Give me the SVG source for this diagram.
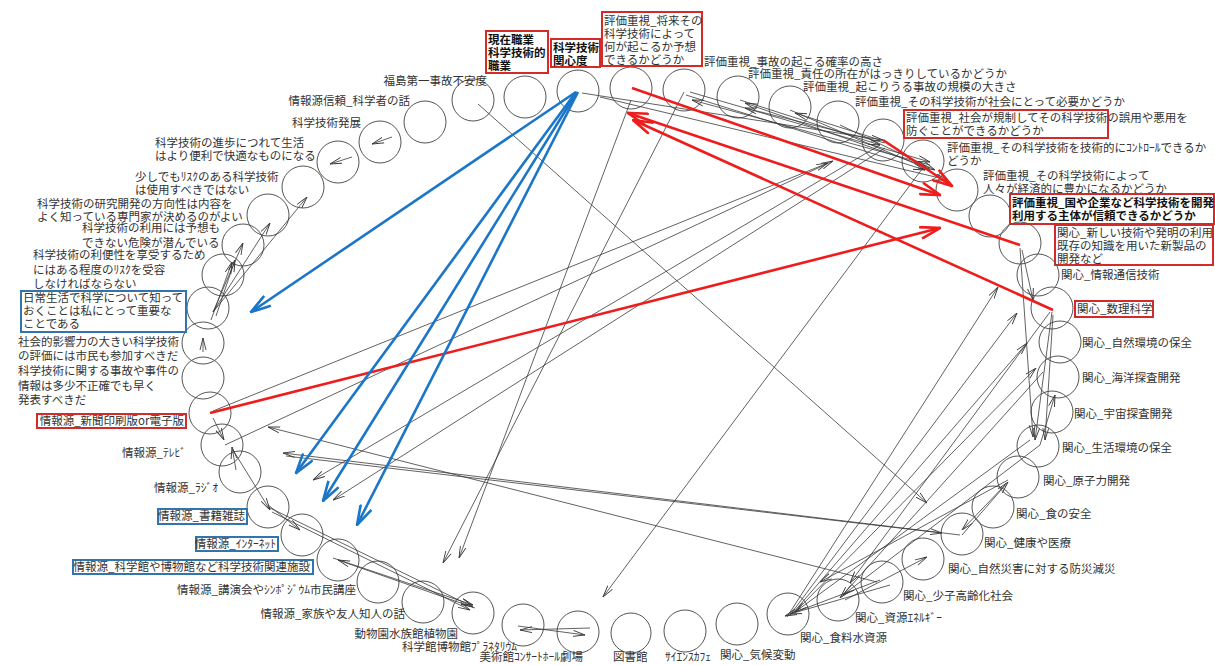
<svg xmlns="http://www.w3.org/2000/svg" width="1215" height="665" viewBox="0 0 1215 665">
<defs>
<style>
.c{fill:none;stroke:#555;stroke-width:1}
.t{font-family:"Noto Sans CJK JP","Noto Sans",sans-serif;font-size:11.5px;fill:#333}
.tb{font-family:"Noto Sans CJK JP","Noto Sans",sans-serif;font-size:11.5px;fill:#111;font-weight:bold}
.rbx{fill:#fff;stroke:#d42a2a;stroke-width:2}
.bbx{fill:#fff;stroke:#3274ae;stroke-width:2}
.k{stroke:#3a3a3a;stroke-width:0.8;fill:none;marker-end:url(#ak)}
.r{stroke:#ee1c1c;stroke-width:2.6;fill:none;marker-end:url(#ar)}
.b{stroke:#1b76c8;stroke-width:2.6;fill:none;marker-end:url(#ab)}
</style>
<marker id="ak" viewBox="0 0 12 8" refX="12" refY="4" markerWidth="12" markerHeight="8" markerUnits="userSpaceOnUse" orient="auto"><path d="M0,1 L12,4 L0,7" fill="none" stroke="#3a3a3a" stroke-width="0.9"/></marker>
<marker id="ar" viewBox="0 0 22 14" refX="21" refY="7" markerWidth="22" markerHeight="14" markerUnits="userSpaceOnUse" orient="auto"><path d="M1,1 L21,7 L1,13" fill="none" stroke="#ee1c1c" stroke-width="2.6"/></marker>
<marker id="ab" viewBox="0 0 22 14" refX="21" refY="7" markerWidth="22" markerHeight="14" markerUnits="userSpaceOnUse" orient="auto"><path d="M1,1 L21,7 L1,13" fill="none" stroke="#1b76c8" stroke-width="2.6"/></marker>
</defs>
<rect width="1215" height="665" fill="#fff"/>

<g id="nodes">
<g id="n1"><circle class="c" cx="473" cy="100" r="21"/><text class="t" x="487" y="85" text-anchor="end">福島第一事故不安度</text></g>
<g id="n2"><circle class="c" cx="525" cy="97" r="21"/><rect class="rbx" x="486" y="31" width="62" height="42"/><text class="tb" x="488" y="44">現在職業</text><text class="tb" x="488" y="57">科学技術的</text><text class="tb" x="488" y="70">職業</text></g>
<g id="n3"><circle class="c" cx="578" cy="91" r="21"/><rect class="rbx" x="551" y="39" width="49" height="28"/><text class="tb" x="553" y="52">科学技術</text><text class="tb" x="553" y="65">関心度</text></g>
<g id="n4"><circle class="c" cx="631" cy="88" r="21"/><rect class="rbx" x="602" y="12" width="100" height="54"/><text class="t" x="604" y="25">評価重視_将来その</text><text class="t" x="604" y="38">科学技術によって</text><text class="t" x="604" y="51">何が起こるか予想</text><text class="t" x="604" y="64">できるかどうか</text></g>
<g id="n5"><circle class="c" cx="684" cy="90" r="21"/><text class="t" x="704" y="66">評価重視_事故の起こる確率の高さ</text></g>
<g id="n6"><circle class="c" cx="738" cy="97" r="21"/><text class="t" x="748" y="78">評価重視_責任の所在がはっきりしているかどうか</text></g>
<g id="n7"><circle class="c" cx="790" cy="107" r="21"/><text class="t" x="803" y="91">評価重視_起こりうる事故の規模の大きさ</text></g>
<g id="n8"><circle class="c" cx="838" cy="122" r="21"/><text class="t" x="855" y="106">評価重視_その科学技術が社会にとって必要かどうか</text></g>
<g id="n9"><circle class="c" cx="883" cy="140" r="21"/><rect class="rbx" x="904" y="110" width="204" height="28"/><text class="t" x="906" y="122">評価重視_社会が規制してその科学技術の誤用や悪用を</text><text class="t" x="906" y="135">防ぐことができるかどうか</text></g>
<g id="n10"><circle class="c" cx="923" cy="161" r="21"/><text class="t" x="947" y="152">評価重視_その科学技術を技術的にｺﾝﾄﾛｰﾙできるか</text><text class="t" x="947" y="165">どうか</text></g>
<g id="n11"><circle class="c" cx="957" cy="190" r="21"/><text class="t" x="983" y="180">評価重視_その科学技術によって</text><text class="t" x="983" y="193">人々が経済的に豊かになるかどうか</text></g>
<g id="n12"><circle class="c" cx="990" cy="216" r="21"/><rect class="rbx" x="1010" y="194" width="204" height="30"/><text class="tb" x="1012" y="207">評価重視_国や企業など科学技術を開発</text><text class="tb" x="1012" y="220">利用する主体が信頼できるかどうか</text></g>
<g id="n13"><circle class="c" cx="1020" cy="243" r="21"/><rect class="rbx" x="1055" y="225" width="158" height="40"/><text class="t" x="1057" y="237">関心_新しい技術や発明の利用</text><text class="t" x="1057" y="250">既存の知識を用いた新製品の</text><text class="t" x="1057" y="263">開発など</text></g>
<g id="n14"><circle class="c" cx="1038" cy="275" r="21"/><text class="t" x="1061" y="279">関心_情報通信技術</text></g>
<g id="n15"><circle class="c" cx="1052" cy="308" r="21"/><rect class="rbx" x="1075" y="301" width="78" height="16"/><text class="t" x="1077" y="313">関心_数理科学</text></g>
<g id="n16"><circle class="c" cx="1060" cy="342" r="21"/><text class="t" x="1082" y="347">関心_自然環境の保全</text></g>
<g id="n17"><circle class="c" cx="1058" cy="377" r="21"/><text class="t" x="1082" y="382">関心_海洋探査開発</text></g>
<g id="n18"><circle class="c" cx="1052" cy="412" r="21"/><text class="t" x="1074" y="418">関心_宇宙探査開発</text></g>
<g id="n19"><circle class="c" cx="1038" cy="446" r="21"/><text class="t" x="1062" y="452">関心_生活環境の保全</text></g>
<g id="n20"><circle class="c" cx="1018" cy="477" r="21"/><text class="t" x="1043" y="485">関心_原子力開発</text></g>
<g id="n21"><circle class="c" cx="993" cy="507" r="21"/><text class="t" x="1016" y="518">関心_食の安全</text></g>
<g id="n22"><circle class="c" cx="962" cy="534" r="21"/><text class="t" x="984" y="547">関心_健康や医療</text></g>
<g id="n23"><circle class="c" cx="923" cy="559" r="21"/><text class="t" x="948" y="573">関心_自然災害に対する防災減災</text></g>
<g id="n24"><circle class="c" cx="882" cy="582" r="21"/><text class="t" x="903" y="600">関心_少子高齢化社会</text></g>
<g id="n25"><circle class="c" cx="838" cy="600" r="21"/><text class="t" x="855" y="622">関心_資源ｴﾈﾙｷﾞｰ</text></g>
<g id="n26"><circle class="c" cx="788" cy="614" r="21"/><text class="t" x="800" y="642">関心_食料水資源</text></g>
<g id="n27"><circle class="c" cx="737" cy="624" r="21"/><text class="t" x="720" y="659">関心_気候変動</text></g>
<g id="n28"><circle class="c" cx="685" cy="631" r="21"/><text class="t" x="665" y="661">ｻｲｴﾝｽｶﾌｪ</text></g>
<g id="n29"><circle class="c" cx="631" cy="633" r="20"/><text class="t" x="613" y="661">図書館</text></g>
<g id="n30"><circle class="c" cx="578" cy="632" r="21"/><text class="t" x="583" y="661" text-anchor="end">美術館ｺﾝｻｰﾄﾎｰﾙ劇場</text></g>
<g id="n31"><circle class="c" cx="523" cy="625" r="21"/><text class="t" x="517" y="651" text-anchor="end">科学館博物館ﾌﾟﾗﾈﾀﾘｳﾑ</text></g>
<g id="n32"><circle class="c" cx="473" cy="613" r="21"/><text class="t" x="458" y="638" text-anchor="end">動物園水族館植物園</text></g>
<g id="n33"><circle class="c" cx="423" cy="602" r="21"/><text class="t" x="405" y="618" text-anchor="end">情報源_家族や友人知人の話</text></g>
<g id="n34"><circle class="c" cx="378" cy="582" r="21"/><text class="t" x="356" y="594" text-anchor="end">情報源_講演会やｼﾝﾎﾟｼﾞｳﾑ市民講座</text></g>
<g id="n35"><circle class="c" cx="338" cy="560" r="21"/><rect class="bbx" x="73" y="560" width="240" height="14"/><text class="t" x="310" y="571" text-anchor="end">情報源_科学館や博物館など科学技術関連施設</text></g>
<g id="n36"><circle class="c" cx="302" cy="535" r="21"/><rect class="bbx" x="196" y="537" width="82" height="14"/><text class="t" x="276" y="548" text-anchor="end">情報源_ｲﾝﾀｰﾈｯﾄ</text></g>
<g id="n37"><circle class="c" cx="268" cy="507" r="21"/><rect class="bbx" x="158" y="509" width="89" height="15"/><text class="t" x="245" y="520" text-anchor="end">情報源_書籍雑誌</text></g>
<g id="n38"><circle class="c" cx="240" cy="472" r="21"/><text class="t" x="218" y="492" text-anchor="end">情報源_ﾗｼﾞｵ</text></g>
<g id="n39"><circle class="c" cx="222" cy="445" r="21"/><text class="t" x="186" y="457" text-anchor="end">情報源_ﾃﾚﾋﾞ</text></g>
<g id="n40"><circle class="c" cx="210" cy="413" r="21"/><rect class="rbx" x="37" y="414" width="149" height="14"/><text class="t" x="184" y="425" text-anchor="end">情報源_新聞印刷版or電子版</text></g>
<g id="n41"><circle class="c" cx="203" cy="378" r="21"/><text class="t" x="18" y="375">科学技術に関する事故や事件の</text><text class="t" x="18" y="390">情報は多少不正確でも早く</text><text class="t" x="18" y="404">発表すべきだ</text></g>
<g id="n42"><circle class="c" cx="203" cy="343" r="21"/><text class="t" x="18" y="346">社会的影響力の大きい科学技術</text><text class="t" x="18" y="360">の評価には市民も参加すべきだ</text></g>
<g id="n43"><circle class="c" cx="208" cy="308" r="21"/><rect class="bbx" x="21" y="291" width="165" height="41"/><text class="t" x="23" y="302">日常生活で科学について知って</text><text class="t" x="23" y="315">おくことは私にとって重要な</text><text class="t" x="23" y="328">ことである</text></g>
<g id="n44"><circle class="c" cx="223" cy="275" r="21"/><text class="t" x="33" y="259">科学技術の利便性を享受するため</text><text class="t" x="33" y="274">にはある程度のﾘｽｸを受容</text><text class="t" x="33" y="288">しなければならない</text></g>
<g id="n45"><circle class="c" cx="243" cy="245" r="21"/><text class="t" x="82" y="232">科学技術の利用には予想も</text><text class="t" x="82" y="247">できない危険が潜んでいる</text></g>
<g id="n46"><circle class="c" cx="268" cy="215" r="21"/><text class="t" x="37" y="208">科学技術の研究開発の方向性は内容を</text><text class="t" x="37" y="221">よく知っている専門家が決めるのがよい</text></g>
<g id="n47"><circle class="c" cx="303" cy="187" r="21"/><text class="t" x="135" y="181">少しでもﾘｽｸのある科学技術</text><text class="t" x="135" y="194">は使用すべきではない</text></g>
<g id="n48"><circle class="c" cx="338" cy="162" r="21"/><text class="t" x="155" y="147">科学技術の進歩につれて生活</text><text class="t" x="155" y="160">はより便利で快適なものになる</text></g>
<g id="n49"><circle class="c" cx="380" cy="142" r="21"/><text class="t" x="361" y="127" text-anchor="end">科学技術発展</text></g>
<g id="n50"><circle class="c" cx="425" cy="122" r="21"/><text class="t" x="410" y="105" text-anchor="end">情報源信頼_科学者の話</text></g>
</g>

<g id="connectors">
<path class="k" d="M478,104 L927,503"/>
<path class="k" d="M631,100 L459,558"/>
<path class="k" d="M684,92 L443,563"/>
<path class="k" d="M925,165 L603,597"/>
<path class="k" d="M213,411 L828,163"/>
<path class="k" d="M225,445 L833,161"/>
<path class="k" d="M960,535 L283,453"/>
<path class="k" d="M286,456 L942,533"/>
<path class="k" d="M877,582 L268,427"/>
<path class="k" d="M880,145 L313,480"/>
<path class="k" d="M885,148 L333,500"/>
<path class="k" d="M582,93 L883,140"/>
<path class="k" d="M690,92 L930,162"/>
<path class="k" d="M686,95 L925,170"/>
<path class="k" d="M930,165 L692,100"/>
<path class="k" d="M930,168 L745,103"/>
<path class="k" d="M880,140 L795,113"/>
<path class="k" d="M885,143 L745,108"/>
<path class="k" d="M840,125 L935,170"/>
<path class="k" d="M790,110 L930,170"/>
<path class="k" d="M740,100 L880,145"/>
<path class="k" d="M600,97 L948,180"/>
<path class="k" d="M213,312 L307,197"/>
<path class="k" d="M213,312 L270,223"/>
<path class="k" d="M213,312 L243,243"/>
<path class="k" d="M216,316 L235,260"/>
<path class="k" d="M211,320 L232,262"/>
<path class="k" d="M203,352 L203,338"/>
<path class="k" d="M352,157 L330,164"/>
<path class="k" d="M392,137 L372,144"/>
<path class="k" d="M213,418 L224,440"/>
<path class="k" d="M236,470 L232,447"/>
<path class="k" d="M233,450 L270,510"/>
<path class="k" d="M268,505 L300,530"/>
<path class="k" d="M268,507 L473,607"/>
<path class="k" d="M272,512 L470,610"/>
<path class="k" d="M333,558 L473,605"/>
<path class="k" d="M475,608 L338,560"/>
<path class="k" d="M518,626 L585,635"/>
<path class="k" d="M590,628 L520,630"/>
<path class="k" d="M787,617 L998,287"/>
<path class="k" d="M790,615 L1017,313"/>
<path class="k" d="M792,614 L1027,343"/>
<path class="k" d="M795,612 L1036,368"/>
<path class="k" d="M1043,372 L840,598"/>
<path class="k" d="M1040,445 L843,595"/>
<path class="k" d="M1030,440 L795,612"/>
<path class="k" d="M1008,480 L820,582"/>
<path class="k" d="M1050,312 L850,583"/>
<path class="k" d="M962,535 L1008,482"/>
<path class="k" d="M1005,485 L962,530"/>
<path class="k" d="M845,600 L927,557"/>
<path class="k" d="M890,585 L790,614"/>
<path class="k" d="M880,580 L785,616"/>
<path class="k" d="M1020,248 L1033,437"/>
<path class="k" d="M1052,312 L1035,440"/>
<path class="k" d="M1053,315 L1045,440"/>
<path class="k" d="M1040,445 L1055,395"/>
<path class="k" d="M1022,250 L1033,300"/>
<path class="r" d="M632,88 L940,195"/>
<path class="r" d="M883,140 L952,186"/>
<path class="r" d="M1020,245 L628,113"/>
<path class="r" d="M1053,310 L633,120"/>
<path class="r" d="M210,413 L940,228"/>
<path class="b" d="M576,92 L251,312"/>
<path class="b" d="M576,92 L296,473"/>
<path class="b" d="M577,92 L323,501"/>
<path class="b" d="M578,92 L357,525"/>
</g>
</svg>
